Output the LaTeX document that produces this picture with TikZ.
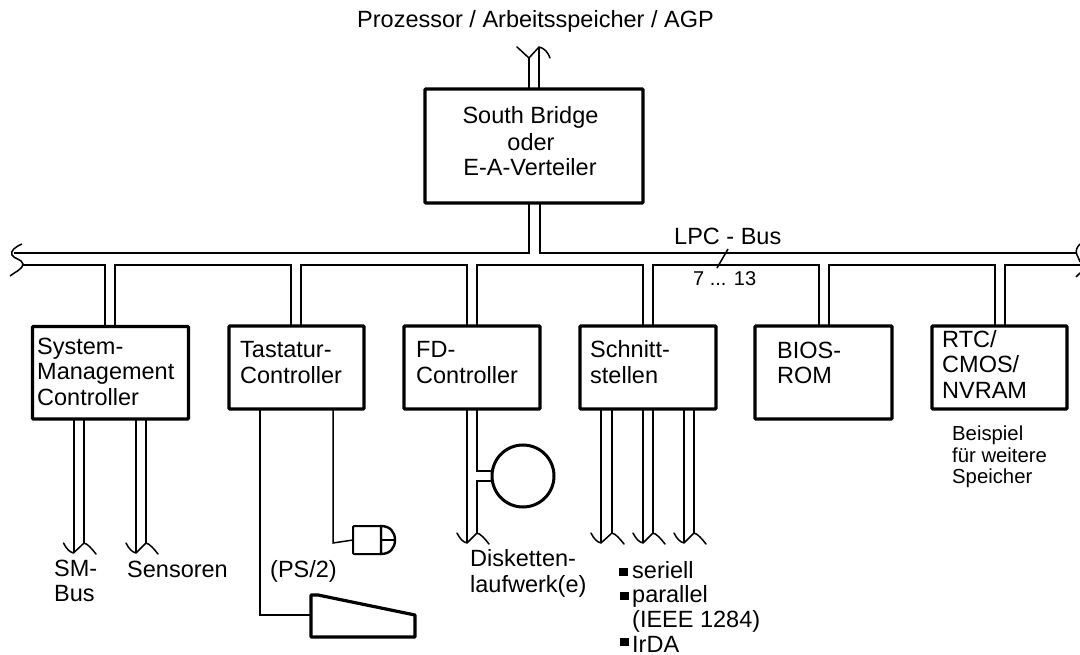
\documentclass[tikz,border=0pt]{standalone}
\usepackage{fontspec}
\setmainfont{Liberation Sans}
\newcommand{\bigfont}{\fontsize{23.5}{25}\selectfont}
\newcommand{\smallfont}{\fontsize{20.3}{21.5}\selectfont}
\newcommand{\busdown}[4]{%
  \draw[busline] (#1,0 |- #3) -- (#1,#4);
  \draw[busline] (#2,0 |- #3) -- (#2,#4-10);
  \draw[thinline,line cap=round,line join=round] (#1-10,#4-10) .. controls (#1-7,#4-4) and (#1-4,#4-1) .. (#1,#4) -- (#2,#4-10) .. controls (#2+4,#4-9) and (#2+8,#4-4) .. (#2+12,#4+1);
}
\tikzset{
  x=1pt,y=-1pt,
  busline/.style={line width=2pt},
  thinline/.style={line width=1.5pt},
  toplinestyle/.style={line width=2.6pt},
  blockbox/.style={draw,line width=3.4pt,rounded corners=1pt,inner sep=0pt,outer sep=0pt,anchor=north west},
  label/.style={inner sep=0pt,anchor=base west,align=left,font=\bigfont},
  smalllabel/.style={inner sep=0pt,anchor=base west,align=left,font=\smallfont},
  bulletbox/.style={fill=black,inner sep=0pt,minimum width=9pt,minimum height=8pt,anchor=north west},
}
\begin{document}
\begin{tikzpicture}
\useasboundingbox (0,0) rectangle (1080,655);
% blocks
\node[blockbox,minimum width=218pt,minimum height=114pt] (south) at (425,89) {};
\node[blockbox,minimum width=156pt,minimum height=92.5pt] (sm) at (32.5,326.5) {};
\node[blockbox,minimum width=135pt,minimum height=83pt] (tast) at (229,326) {};
\node[blockbox,minimum width=136pt,minimum height=83pt] (fd) at (404,326) {};
\node[blockbox,minimum width=136pt,minimum height=83pt] (schn) at (580,326) {};
\node[blockbox,minimum width=137pt,minimum height=93pt] (bios) at (755,326) {};
\node[blockbox,minimum width=135pt,minimum height=83pt] (rtc) at (932,326) {};
% bus ends
\coordinate (busTL) at (14,253);
\coordinate (busBL) at (22,265);
\coordinate (busTR) at (1076,253);
\coordinate (busBR) at (1080,265);
% bus upper
\draw[toplinestyle] (busTL) -- (529,253) -- (529,0 |- south.south);
\draw[toplinestyle] (540,0 |- south.south) -- (540,253) -- (busTR);
% bus lower with drops
\draw[busline] (busBL) -- (105,265) -- (105,0 |- sm.north);
\draw[busline] (115,0 |- sm.north) -- (115,265) -- (291,265) -- (291,0 |- tast.north);
\draw[busline] (301,0 |- tast.north) -- (301,265) -- (467,265) -- (467,0 |- fd.north);
\draw[busline] (477,0 |- fd.north) -- (477,265) -- (643,265) -- (643,0 |- schn.north);
\draw[busline] (653,0 |- schn.north) -- (653,265) -- (819,265) -- (819,0 |- bios.north);
\draw[busline] (829,0 |- bios.north) -- (829,265) -- (995,265) -- (995,0 |- rtc.north);
\draw[busline] (1005,0 |- rtc.north) -- (1005,265) -- (busBR);
% squiggles
\draw[thinline] (22,244) .. controls (15,247) and (10,251) .. (12,255) .. controls (14,259) and (22,259) .. (23,264) .. controls (23,269) and (15,272) .. (10,276);
\draw[thinline] (1080,244) .. controls (1077,247) and (1075,251) .. (1077,255) .. controls (1078,258) and (1080,260) .. (1080,262);
\draw[thinline] (1076,277) -- (1080,273);
% top arrow
\draw[busline] (529,0 |- south.north) -- (529,58);
\draw[busline] (539,0 |- south.north) -- (539,47);
\draw[thinline,line cap=round,line join=round] (517,47) -- (529,58) -- (539,47) .. controls (544,48) and (548,52) .. (550,58);
% tick
\coordinate (tickA) at (728,249);
\coordinate (tickB) at (717,268);
\draw[thinline] (tickA) -- (tickB);
% bus-downs
\busdown{73.5}{84}{sm.south}{553}
\busdown{136}{146}{sm.south}{553}
\busdown{467}{477}{fd.south}{543}
\busdown{601}{612}{schn.south}{543}
\busdown{643}{653}{schn.south}{543}
\busdown{684}{694}{schn.south}{543}
% disk drive
\node[draw,circle,line width=3pt,minimum size=62pt,inner sep=0pt,outer sep=0pt] (disk) at (523,476) {};
\fill[white] (476,472) rectangle (478,480);
\draw[busline] (477,471) -- (disk.west |- 0,471);
\draw[busline] (477,481) -- (disk.west |- 0,481);
% mouse
\node[draw,line width=2pt,rounded corners=1pt,inner sep=0pt,outer sep=0pt,minimum width=28pt,minimum height=28pt,anchor=north west] (mouse) at (353,526) {};
\draw[line width=2.4pt] (mouse.north east) .. controls (390,526) and (395,532) .. (395,540) .. controls (395,548) and (390,554) .. (mouse.south east) -- cycle;
\draw[line width=2.4pt] (mouse.east) -- (395,540);
% keyboard
\coordinate (kbA) at (311,615);
\draw[line width=3.2pt,line join=round] (311,595) -- (318,595) -- (415,615) -- (415,637) -- (311,637) -- cycle;
\draw[thinline] (260,0 |- tast.south) -- (260,615) -- (kbA);
\draw[thinline] (333,0 |- tast.south) -- (333,543) -- (mouse.west);
% texts
\node[label] (t1) at (357,28) {Prozessor / Arbeitsspeicher / AGP};
\node[label,anchor=base] (t2) at (530.5,124) {South Bridge};
\node[label,anchor=base] (t2b) at (531,151) {oder};
\node[label,anchor=base] (t2c) at (530,176) {E-A-Verteiler};
\node[label] (t3) at (674,245) {LPC - Bus};
\node[label] (t4) at (693,286) {\fontsize{20}{21}\selectfont 7 ... 13};
\node[label] (t5) at (37,355) {System-};
\node[label] (t5b) at (37,380) {Management};
\node[label] (t5c) at (37,405) {Controller};
\node[label] (t6) at (240,358) {Tastatur-};
\node[label] (t6b) at (240,383) {Controller};
\node[label] (t7) at (416,358) {FD-};
\node[label] (t7b) at (416,383) {Controller};
\node[label] (t8) at (590,358) {Schnitt-};
\node[label] (t8b) at (590,383) {stellen};
\node[label] (t9) at (777,359) {BIOS-};
\node[label] (t9b) at (777,384) {ROM};
\node[label] (t10) at (942,348) {RTC/};
\node[label] (t10b) at (942,373) {CMOS/};
\node[label] (t10c) at (942,398) {NVRAM};
\node[smalllabel] (t11) at (952,440) {Beispiel};
\node[smalllabel] (t11b) at (952,462) {für weitere};
\node[smalllabel] (t11c) at (952,483) {Speicher};
\node[label] (t12) at (54,576) {SM-};
\node[label] (t12b) at (54,601) {Bus};
\node[label] (t13) at (127,577) {Sensoren};
\node[label] (t14) at (270,577) {(PS/2)};
\node[label] (t15) at (470,566) {Disketten-};
\node[label] (t15b) at (470,592) {laufwerk(e)};
\node[label] (t16) at (632,578) {seriell};
\node[label] (t17) at (632,602) {parallel};
\node[label] (t17b) at (632,627) {(IEEE 1284)};
\node[label] (t18) at (632,652) {IrDA};
\node[bulletbox] (b1) at (619,568) {};
\node[bulletbox] (b2) at (620,592) {};
\node[bulletbox] (b3) at (620,638) {};
\end{tikzpicture}
\end{document}
